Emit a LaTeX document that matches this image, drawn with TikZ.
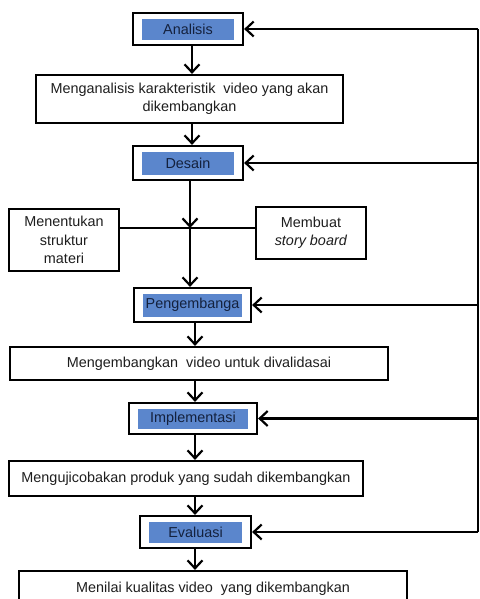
\documentclass[tikz,border=0pt]{standalone}
\usepackage{fontspec}
\setmainfont{Liberation Sans}
\usepackage{tikz}
\usetikzlibrary{arrows.meta,positioning}
\definecolor{phaseblue}{HTML}{5B86CC}
\definecolor{phasetext}{HTML}{14213D}
\definecolor{boxtext}{HTML}{1E1E1E}

\begin{document}
\begin{tikzpicture}[
  x=1pt, y=-1pt,
  font=\fontsize{14.4}{18.5}\selectfont,
  phase/.style={draw, line width=2.2pt, fill=white, inner sep=0pt, text=phasetext,
                path picture={\fill[phaseblue]
                  ([shift={(9pt,-6pt)}]path picture bounding box.north west) rectangle
                  ([shift={(-9pt,5pt)}]path picture bounding box.south east);}},
  task/.style={draw, line width=2.2pt, fill=white, align=center, inner sep=0pt, text=boxtext},
  arrow/.style={-{Straight Barb[length=8pt,width=15pt]}, line width=2.2pt},
  link/.style={line width=2.2pt}
]
\useasboundingbox (0,0) rectangle (479,599);

\node[phase, minimum width=110pt, minimum height=32pt] (ana) at (188,29) {Analisis};
\node[task, minimum width=307pt, minimum height=48pt] (ana1) at (189.5,99)
  {Menganalisis karakteristik\ \ video yang akan\\dikembangkan};

\node[phase, minimum width=110pt, minimum height=34pt] (des) at (188,163) {Desain};
\node[task, minimum width=110pt, minimum height=62pt] (des1) at (64,240)
  {Menentukan\\struktur\\materi};
\node[task, minimum width=110pt, minimum height=52pt] (des2) at (311,233)
  {Membuat\\\textit{story board}};
\coordinate (jn) at (190,228);

\node[phase, minimum width=117pt, minimum height=34pt] (dev) at (192.5,305) {Pengembanga};
\node[task, minimum width=378pt, minimum height=33pt] (dev1) at (199,363.5)
  {Mengembangkan\ \ video untuk divalidasai};

\node[phase, minimum width=128pt, minimum height=31pt] (imp) at (193,418.5) {Implementasi};
\node[task, minimum width=354pt, minimum height=35pt] (imp1) at (186,478.5)
  {Mengujicobakan produk yang sudah dikembangkan};

\node[phase, minimum width=111pt, minimum height=32pt] (eva) at (195.5,532) {Evaluasi};
\node[task, minimum width=388pt, minimum height=36pt] (eva1) at (213,589)
  {Menilai kualitas video\ \ yang dikembangkan};

\coordinate (back) at (478,0);

% main flow
\draw[arrow] (ana.south -| 192,0) -- (ana1.north -| 192,0);
\draw[arrow] (ana1.south -| 192,0) -- (des.north -| 192,0);
\draw[arrow] (des.south -| jn) -- (jn);
\draw[link] (des1.east |- jn) -- (des2.west |- jn);
\draw[arrow] (jn) -- (dev.north -| jn);
\draw[arrow] (dev.south -| 195,0) -- (dev1.north -| 195,0);
\draw[arrow] (dev1.south -| 195,0) -- (imp.north -| 195,0);
\draw[arrow] (imp.south -| 195,0) -- (imp1.north -| 195,0);
\draw[arrow] (imp1.south -| 195,0) -- (eva.north -| 195,0);
\draw[arrow] (eva.south -| 195,0) -- (eva1.north -| 195,0);

% feedback line
\draw[link] (back |- ana.east) -- (back |- eva.east);
\foreach \p in {ana,des,dev,imp,eva}
  \draw[arrow] (back |- \p.east) -- (\p.east);
\end{tikzpicture}
\end{document}
